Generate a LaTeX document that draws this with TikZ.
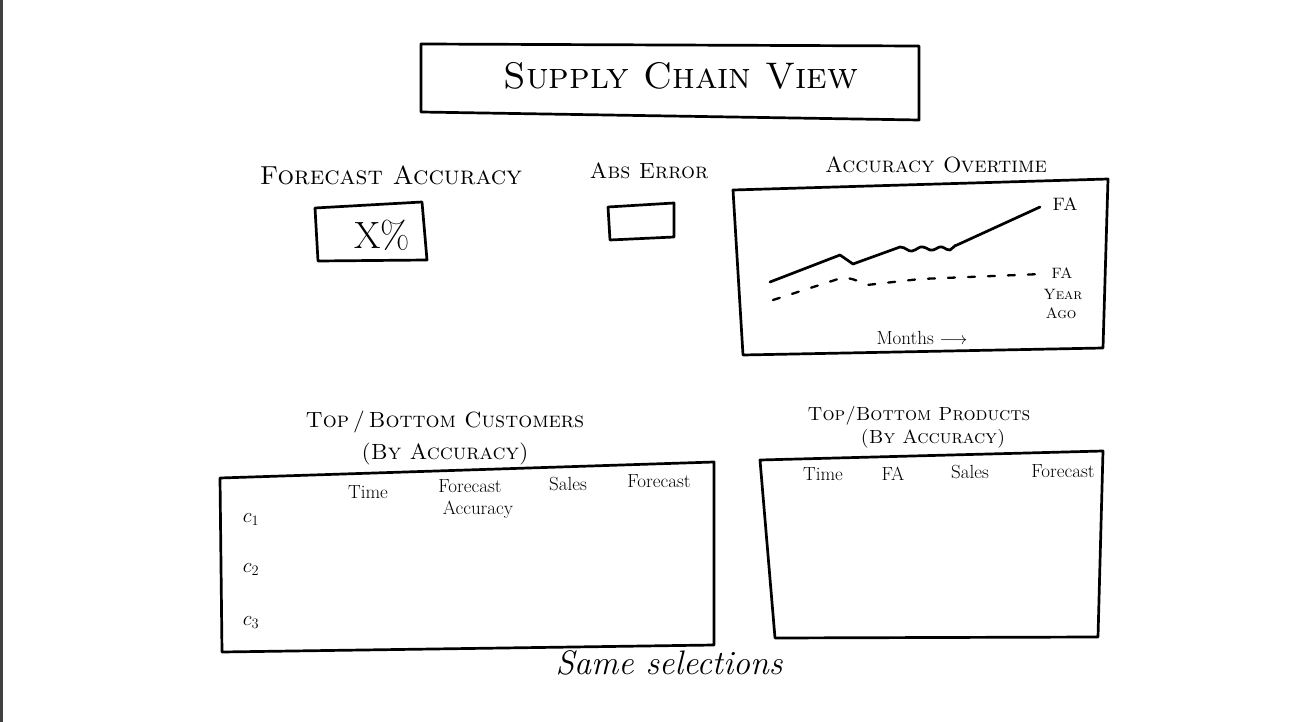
\documentclass[tikz,border=0pt]{standalone}
\usepackage{fontspec}
\newcommand{\fsz}[1]{\fontsize{#1}{#1}\selectfont}
\begin{document}
\begin{tikzpicture}[x=1pt,y=-1pt,
  sk/.style={line width=2.7pt, line join=round, line cap=round},
  lbl/.style={inner sep=0pt, anchor=base},
  dashline/.style={line width=2.3pt, line cap=round, dash pattern=on 7pt off 13pt}]
\useasboundingbox (0,0) rectangle (1294,722);
\fill[white] (0,0) rectangle (1294,722);
\draw[line width=3pt, black!75] (1.5,0) -- (1.5,722);

% title
\draw[sk] (421,44) -- (919,46) -- (919,120) -- (421,112) -- cycle;
\node[lbl, font=\fsz{37}] (title) at (681,89) {\textsc{Supply Chain View}};

% forecast accuracy KPI
\node[lbl, font=\fsz{26}] (falbl) at (391,185) {\textsc{Forecast Accuracy}};
\draw[sk] (315,208) -- (422,202) -- (427,260) -- (318,261) -- cycle;
\node[lbl, font=\fsz{38}] (xpct) at (382,249) {X\%};

% abs error KPI
\node[lbl, font=\fsz{22}] (abslbl) at (649,179) {\textsc{Abs Error}};
\draw[sk] (608,207) -- (674,203) -- (674,237) -- (610,240) -- cycle;

% accuracy overtime chart
\node[lbl, font=\fsz{22}] (aolbl) at (936,173) {\textsc{Accuracy Overtime}};
\draw[sk] (733,190) -- (1108,179) -- (1103,348) -- (743,355) -- cycle;
\coordinate (fa0) at (770,282);
\coordinate (fa1) at (1040,207);
\draw[sk] (fa0) -- (840,255) -- (853,264) -- (900,247)
  .. controls (906,247) and (908,252) .. (912,251)
  .. controls (917,250) and (919,246) .. (923,247)
  .. controls (928,248) and (929,251) .. (933,250)
  .. controls (937,249) and (939,246) .. (942,247)
  .. controls (946,248) and (947,251) .. (950,250)
  .. controls (953,249) and (954,245) .. (957,245) -- (fa1);
\coordinate (ly0) at (773,300);
\coordinate (ly1) at (1042,274);
\draw[dashline] (ly0) -- (835,280) .. controls (845,276) and (852,278) .. (867,285)
  -- (920,279) -- (ly1);
\node[lbl, font=\fsz{18}] (fatag) at (1065,211) {\textsc{FA}};
\node[lbl, font=\fsz{15}] (fay1) at (1062,279) {\textsc{FA}};
\node[lbl, font=\fsz{15}] (fay2) at (1063,299) {\textsc{Year}};
\node[lbl, font=\fsz{15}] (fay3) at (1061,319) {\textsc{Ago}};
\node[lbl, font=\fsz{19}] (months) at (922,344) {Months $\longrightarrow$};

% customers table
\node[lbl, font=\fsz{22}] (custlbl) at (445,427) {\textsc{Top\,/\,Bottom Customers}};
\node[lbl, font=\fsz{22}] (custsub) at (445,459) {\textsc{(By Accuracy)}};
\draw[sk] (220,478) -- (714,462) -- (714,645) -- (222,652) -- cycle;
\node[lbl, font=\fsz{19}] (ct1) at (368,498) {Time};
\node[lbl, font=\fsz{19}] (ct2) at (470,492) {Forecast};
\node[lbl, font=\fsz{19}] (ct3) at (478,514) {Accuracy};
\node[lbl, font=\fsz{19}] (ct4) at (568,490) {Sales};
\node[lbl, font=\fsz{19}] (ct5) at (659,487) {Forecast};
\node[lbl, font=\fsz{21}] (c1) at (251,522) {$c_1$};
\node[lbl, font=\fsz{21}] (c2) at (251,572) {$c_2$};
\node[lbl, font=\fsz{21}] (c3) at (251,625) {$c_3$};

% products table
\node[lbl, font=\fsz{19}] (prodlbl) at (919,420) {\textsc{Top/Bottom Products}};
\node[lbl, font=\fsz{19}] (prodsub) at (933,443) {\textsc{(By Accuracy)}};
\draw[sk] (760,460) -- (1103,451) -- (1098,637) -- (775,638) -- cycle;
\node[lbl, font=\fsz{19}] (pt1) at (823,480) {Time};
\node[lbl, font=\fsz{19}] (pt2) at (893,480) {FA};
\node[lbl, font=\fsz{19}] (pt3) at (970,478) {Sales};
\node[lbl, font=\fsz{19}] (pt4) at (1063,477) {Forecast};

% footer
\node[lbl, font=\fsz{34}\itshape] (same) at (669,674) {Same selections};
\end{tikzpicture}
\end{document}
